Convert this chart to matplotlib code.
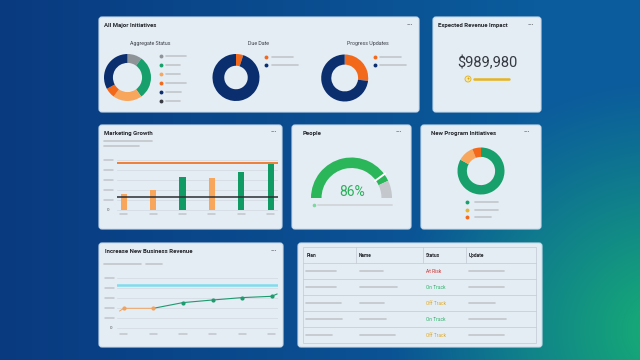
import numpy as np
import matplotlib.pyplot as plt
import matplotlib.transforms as mtransforms
from matplotlib.patches import FancyBboxPatch, Rectangle, Circle
from matplotlib.colors import to_rgb

plt.rcParams['font.family'] = ['Roboto', 'DejaVu Sans']

W, H = 640, 360

# ---- data ----
aggregate_values = [10, 30, 20, 7, 33, 0]
aggregate_colors = ["#8e9398", "#17a06b", "#f7a65c", "#f2691c", "#0b2e6f", "#383b40"]
due_values = [5, 95]
due_colors = ["#f2691c", "#0b2e6f"]
progress_values = [27, 73]
progress_colors = ["#f2691c", "#0b2e6f"]

revenue_impact = "$989,980"

growth_x = [0, 1, 2, 3, 4, 5]
growth_values = [1.57, 2.0, 3.3, 3.17, 3.8, 4.63]
growth_colors = ["#f7a65c", "#f7a65c", "#119b64", "#f7a65c", "#119b64", "#119b64"]
growth_target = 4.7
growth_floor = 1.33

people_pct = 86
people_mark = 80

program_values = [83, 11, 6]
program_colors = ["#17a06b", "#f7a65c", "#f2691c"]
program_legend = ["#17a06b", "#e9b42a", "#f2691c"]

revenue_x = [-0.14, 0, 1, 2, 3, 4, 5, 5.18]
revenue_values = [1.73, 2.0, 2.0, 2.57, 2.83, 3.07, 3.2, 3.43]
revenue_split = 2          # points up to this index are drawn orange
revenue_target = 4.35

table_headers = ["Plan", "Name", "Status", "Update"]
table_status = ["At Risk", "On Track", "Off Track", "On Track", "Off Track"]
status_colors = {"At Risk": "#d0312d", "On Track": "#2eb36a", "Off Track": "#e3a91c"}

GREY = "#c2c6cb"
TXT = "#24272c"

fig = plt.figure(figsize=(6.4, 3.6), dpi=100)
bg = fig.add_axes([0, 0, 1, 1])
bg.set_xlim(0, W)
bg.set_ylim(H, 0)
bg.axis("off")

# background gradient: navy -> blue, green glow bottom right
yy, xx = np.mgrid[0:H, 0:W]
t = np.clip(xx / W * 1.2, 0, 1)[..., None]
base = np.array(to_rgb("#093a80")) * (1 - t) + np.array(to_rgb("#0b5c9c")) * t
d = np.hypot((xx - 670) / 280, (yy - 330) / 250)
g = (np.clip(1 - d, 0, 1) ** 1.1)[..., None]
img = base * (1 - g) + np.array(to_rgb("#17b273")) * g
bg.imshow(img, extent=(0, W, H, 0), aspect="auto", zorder=0)


def card(x0, y0, x1, y1):
    bg.add_patch(FancyBboxPatch((x0, y0), x1 - x0, y1 - y0,
                                boxstyle="round,pad=0,rounding_size=3",
                                fc="#e4ecf4", ec="#cbdcec", lw=0.8, zorder=1))


def title(x, y, s, dots_x):
    bg.text(x, y, s, fontsize=4.3, color=TXT, va="center", ha="left",
            fontweight="bold", zorder=3)
    bg.text(dots_x, y - 0.8, "···", fontsize=5, color="#3c4047", fontweight="bold",
            va="center", ha="center", zorder=3)


def dash(x0, x1, y, lw=1.2, color=GREY):
    bg.plot([x0, x1], [y, y], color=color, lw=lw, solid_capstyle="round", zorder=3)


def dot(x, y, c, s=2.8):
    bg.plot(x, y, "o", ms=s, color=c, mec="none", zorder=3)


def px_axes(x0, y0, x1, y1):
    return fig.add_axes([x0 / W, 1 - y1 / H, (x1 - x0) / W, (y1 - y0) / H])


def donut(cx, cy, r, values, colors, width):
    ax = px_axes(cx - r, cy - r, cx + r, cy + r)
    ax.pie(values, colors=colors, startangle=90, counterclock=False, radius=1,
           wedgeprops=dict(width=width, edgecolor="none"))
    ax.set_xlim(-1, 1)
    ax.set_ylim(-1, 1)
    ax.axis("off")
    return ax


cards = [(99, 17, 419, 112), (433, 17, 541, 112), (99, 125, 282, 229),
         (292, 125, 411, 229), (421, 125, 541, 229), (99, 243, 283, 347),
         (298, 243, 542, 347)]
for c in cards:
    card(*c)

# ---- All Major Initiatives ----
title(104, 26, "All Major Initiatives", 410)
for cx, s in [(150.5, "Aggregate Status"), (259, "Due Date"), (367.7, "Progress Updates")]:
    bg.text(cx, 43.5, s, fontsize=3.8, color="#3d4148", ha="center", va="center", zorder=3)

donut(127.5, 77.5, 23.5, aggregate_values, aggregate_colors, 0.38)
for i, (c, ln) in enumerate(zip(aggregate_colors, [20, 14, 14, 20, 15, 14])):
    y = 56.3 + i * 8.9
    dot(160.7, y, c)
    dash(166, 166 + ln, y)

donut(236, 77.5, 23.5, due_values, due_colors, 0.5)
for i, (c, ln) in enumerate(zip(due_colors, [21, 26])):
    dot(266.3, 57.3 + i * 7.4, c)
    dash(271.7, 271.7 + ln, 57.3 + i * 7.4)

donut(344.7, 78, 23.5, progress_values, progress_colors, 0.43)
for i, (c, ln) in enumerate(zip(progress_colors, [21, 26])):
    dot(375, 57.3 + i * 7.4, c)
    dash(380, 380 + ln, 57.3 + i * 7.4)

# ---- Expected Revenue Impact ----
title(437.7, 26, "Expected Revenue Impact", 531)
bg.text(487, 63, revenue_impact, fontsize=10.5, color="#353940", ha="center",
        va="center", zorder=3)
bg.add_patch(Circle((468, 79), 3, fc="#f6e7a8", ec="#e2b21f", lw=0.6, zorder=3))
bg.text(468, 79.2, "+", fontsize=4, color="#d9a514", ha="center", va="center", zorder=4)
dash(474, 509, 79, lw=1.8, color="#e6b41f")

# ---- Marketing Growth ----
title(104, 133, "Marketing Growth", 273.3)
dash(104, 152, 141.3)
dash(104, 139, 146.3)
ax = px_axes(117, 158, 277.5, 211)
ax.bar(growth_x, growth_values, width=0.21, color=growth_colors, zorder=2)
ax.axhline(growth_target, color="#f0772a", lw=1.3, zorder=3)
ax.axhline(growth_floor, color="#2b2d31", lw=1.1, zorder=3)
ax.set_xlim(-0.23, 5.23)
ax.set_ylim(-0.1, 5.2)
for yv in range(6):
    ax.axhline(yv, color="#d3d9e0", lw=0.5, zorder=1)
ax.axis("off")
ty = mtransforms.blended_transform_factory(ax.transAxes, ax.transData)
tx = mtransforms.blended_transform_factory(ax.transData, ax.transAxes)
for yv in range(1, 6):
    ax.plot([-0.079, -0.025], [yv, yv], transform=ty, color=GREY, lw=1.1,
            solid_capstyle="round", clip_on=False)
ax.text(-0.055, 0, "0", transform=ty, fontsize=3.2, color="#555", ha="center", va="center")
for xv in growth_x:
    ax.plot([xv - 0.12, xv + 0.12], [-0.066, -0.066], transform=tx, color=GREY,
            lw=1.1, solid_capstyle="round", clip_on=False)

# ---- People ----
title(302.3, 133, "People", 398.3)
ax = px_axes(311, 157.5, 392, 238.5)
ax.pie([people_pct, 100 - people_pct, 100], colors=["#2bb65a", "#c4c7cb", "none"],
       startangle=180, counterclock=False, radius=1,
       wedgeprops=dict(width=0.26, edgecolor="none"))
ang = np.deg2rad(180 - people_mark * 1.8)
ax.plot([0.72 * np.cos(ang), 1.02 * np.cos(ang)], [0.72 * np.sin(ang), 1.02 * np.sin(ang)],
        color="white", lw=1.4)
ax.set_xlim(-1, 1)
ax.set_ylim(-1, 1)
ax.axis("off")
bg.text(352, 192.5, f"{people_pct}%", fontsize=10, color="#2bb05a", ha="center",
        va="center", zorder=3)
dot(313.5, 205, "#7fd6a0", s=2.6)
dash(318, 392, 205, lw=1.3, color="#d2d5d9")

# ---- New Program Initiatives ----
title(431, 133, "New Program Initiatives", 526.7)
donut(481, 171, 23.5, program_values, program_colors, 0.4)
for i, (c, ln) in enumerate(zip(program_legend, [23, 23, 16])):
    y = 202 + i * 7.5
    dot(467.3, y, c)
    dash(475, 475 + ln, y)

# ---- Increase New Business Revenue ----
title(105, 251.7, "Increase New Business Revenue", 273.3)
dash(104, 141, 264)
dash(146, 162, 264)
ax = px_axes(117, 277.3, 277.6, 329.3)
for yv in range(6):
    ax.axhline(yv, color="#d3d9e0", lw=0.5, zorder=1)
ax.axhline(revenue_target, color="#7fdcf0", lw=1.8, zorder=2)
ax.plot(revenue_x[:revenue_split + 1], revenue_values[:revenue_split + 1],
        color="#f2a35c", lw=0.7, zorder=3)
ax.plot(revenue_x[revenue_split:], revenue_values[revenue_split:],
        color="#1e9b6e", lw=0.8, zorder=3)
ticks = [i for i, xv in enumerate(revenue_x) if float(xv).is_integer()]
for i in ticks:
    c = "#f2a35c" if i <= revenue_split else "#1e9b6e"
    ax.plot(revenue_x[i], revenue_values[i], "o", ms=2.0, color=c, zorder=4)
ax.set_xlim(-0.23, 5.2)
ax.set_ylim(-0.1, 5.1)
ax.axis("off")
ty = mtransforms.blended_transform_factory(ax.transAxes, ax.transData)
tx = mtransforms.blended_transform_factory(ax.transData, ax.transAxes)
for yv in range(1, 6):
    ax.plot([-0.075, -0.02], [yv, yv], transform=ty, color=GREY, lw=1.1,
            solid_capstyle="round", clip_on=False)
ax.text(-0.035, 0, "0", transform=ty, fontsize=3.2, color="#555", ha="center", va="center")
for xv in range(6):
    ax.plot([xv - 0.12, xv + 0.12], [-0.085, -0.085], transform=tx, color=GREY,
            lw=1.1, solid_capstyle="round", clip_on=False)

# ---- table ----
tx0, tx1, ty0, row_h = 303.3, 535.7, 247.3, 16
col_x = [303.3, 356, 423.3, 465.7]
n_rows = len(table_status) + 1
bg.add_patch(Rectangle((tx0, ty0), tx1 - tx0, row_h * n_rows, fc="none",
                       ec="#c8cfd8", lw=0.6, zorder=2))
for r in range(1, n_rows):
    bg.plot([tx0, tx1], [ty0 + r * row_h] * 2, color="#c8cfd8", lw=0.6, zorder=2)
for cx in col_x[1:]:
    bg.plot([cx, cx], [ty0, ty0 + row_h], color="#c8cfd8", lw=0.6, zorder=2)
for cx, h in zip(col_x, table_headers):
    bg.text(cx + 3, ty0 + row_h / 2, h, fontsize=3.5, color=TXT, fontweight="bold",
            ha="left", va="center", zorder=3)
plan_len = [30, 30, 35, 36, 26]
name_len = [23, 37, 24, 26, 35]
upd_len = [35, 35, 26, 37, 35]
for r, st in enumerate(table_status):
    y = ty0 + (r + 1.5) * row_h
    dash(306, 306 + plan_len[r], y)
    dash(360, 360 + name_len[r], y)
    bg.text(426, y, st, fontsize=3.5, color=status_colors[st], ha="left",
            va="center", zorder=3)
    dash(469, 469 + upd_len[r], y)

fig.savefig("out.png", dpi=100)
